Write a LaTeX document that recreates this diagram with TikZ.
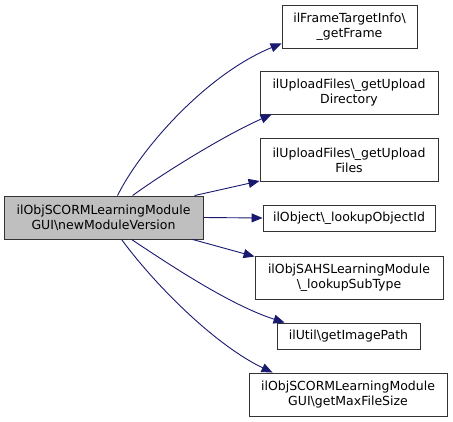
\documentclass[tikz,border=0pt]{standalone}
\usepackage{fontspec}
\setmainfont{DejaVu Sans}
\usetikzlibrary{arrows.meta,calc}
\definecolor{edgeblue}{HTML}{191970}
\definecolor{mainfill}{HTML}{BFBFBF}
\begin{document}
\begin{tikzpicture}[x=1pt,y=-1pt,
  box/.style={draw=black!80,line width=0.9pt,fill=white,align=center,inner sep=0pt,
    font=\fontsize{12.5}{15}\selectfont},
  mainbox/.style={box,fill=mainfill},
  edge/.style={draw=edgeblue,line width=0.9pt,-{Triangle[length=11pt,width=9pt]}}]
\useasboundingbox (0,0) rectangle (453,421);
\node[mainbox,minimum width=199pt,minimum height=43pt] (main) at (103.5,217.5) {ilObjSCORMLearningModule\\GUI\textbackslash newModuleVersion};
\node[box,minimum width=135pt,minimum height=43pt] (n1) at (349.5,26.5) {ilFrameTargetInfo\textbackslash\\\_getFrame};
\node[box,minimum width=178pt,minimum height=43pt] (n2) at (349,92.5) {ilUploadFiles\textbackslash\_getUpload\\Directory};
\node[box,minimum width=178pt,minimum height=43pt] (n3) at (349,160) {ilUploadFiles\textbackslash\_getUpload\\Files};
\node[box,minimum width=172pt,minimum height=26pt] (n4) at (349,218) {ilObject\textbackslash\_lookupObjectId};
\node[box,minimum width=188pt,minimum height=43pt] (n5) at (349,277.5) {ilObjSAHSLearningModule\\\textbackslash\_lookupSubType};
\node[box,minimum width=143pt,minimum height=26pt] (n6) at (348.5,336) {ilUtil\textbackslash getImagePath};
\node[box,minimum width=198pt,minimum height=43pt] (n7) at (348,394.5) {ilObjSCORMLearningModule\\GUI\textbackslash getMaxFileSize};
\draw[edge] ($(main.north west)+(114,0)$) .. controls (140,150) and (205,75) .. ($(n1.south west)+(0,-5)$);
\draw[edge] ($(main.north west)+(129,0)$) .. controls (165,172) and (225,135) .. ($(n2.south west)+(12,0)$);
\draw[edge] ($(main.north west)+(191,0)$) -- ($(n3.south west)+(0,-1)$);
\draw[edge] (main.east) -- (n4.west);
\draw[edge] ($(main.south west)+(189,0)$) -- ($(n5.north west)+(0,1)$);
\draw[edge] ($(main.south west)+(128,0)$) .. controls (170,265) and (230,305) .. ($(n6.north west)+(8,0)$);
\draw[edge] ($(main.south west)+(118,0)$) .. controls (155,285) and (215,345) .. ($(n7.north west)+(24,0)$);
\end{tikzpicture}
\end{document}
